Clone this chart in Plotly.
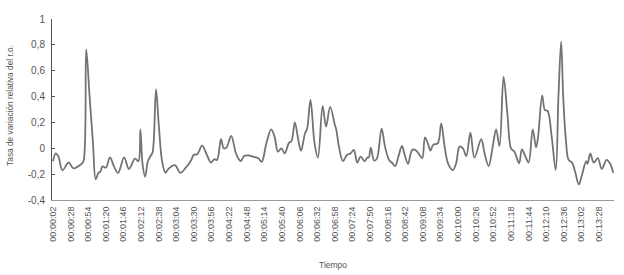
import plotly.graph_objects as go

# Time in seconds from start, and relative variation rate
segundos = [2, 6, 10, 16, 25, 32, 39, 44, 47, 51, 56, 61, 65, 69, 72, 75, 80, 86, 92, 98,
            107, 114, 123, 128, 131, 134, 138, 142, 146, 149, 154, 158, 163, 168, 173, 182,
            190, 198, 205, 210, 215, 222, 229, 235, 240, 244, 250, 254, 258, 265, 272, 277,
            279, 284, 290, 297, 305, 310, 317, 324, 329, 334, 339, 344, 350, 354, 359, 364,
            368, 374, 377, 382, 388, 393, 400, 405, 411, 418, 420, 424, 430, 436, 441, 446,
            451, 456, 462, 466, 468, 471, 476, 480, 487, 492, 498, 502, 507, 512, 517, 521,
            526, 532, 537, 542, 547, 551, 556, 559, 563, 570, 575, 580, 585, 592, 597, 602,
            607, 612, 618, 624, 634, 639, 645, 651, 656, 661, 667, 673, 678, 683, 690, 694,
            699, 704, 710, 715, 718, 724, 728, 732, 738, 744, 748, 752, 755, 759, 763, 768,
            773, 778, 782, 789, 791, 795, 800, 806, 812, 819, 824, 829]
tasa = [-0.10, -0.04, -0.065, -0.17, -0.11, -0.155, -0.14, -0.12, -0.10, 0.765, 0.40, 0.04,
        -0.24, -0.19, -0.18, -0.14, -0.15, -0.07, -0.14, -0.19, -0.07, -0.16, -0.08, -0.10,
        0.147, -0.116, -0.22, -0.10, -0.06, -0.03, 0.456, 0.19, -0.10, -0.19, -0.155, -0.13,
        -0.19, -0.15, -0.10, -0.05, -0.046, 0.02, -0.05, -0.11, -0.085, -0.09, 0.07, 0.0,
        0.005, 0.095, -0.04, -0.09, -0.10, -0.06, -0.055, -0.065, -0.077, -0.105, 0.04, 0.147,
        0.09, -0.026, 0.0, -0.04, 0.04, 0.057, 0.20, 0.064, -0.018, 0.116, 0.15, 0.374,
        0.04, -0.072, 0.327, 0.167, 0.32, 0.18, 0.147, 0.013, -0.10, -0.05, -0.04, -0.013,
        -0.11, -0.065, -0.10, -0.07, -0.072, 0.005, -0.095, -0.08, 0.152, 0.013, -0.09, -0.11,
        -0.137, -0.06, 0.018, -0.05, -0.12, -0.013, -0.013, -0.044, -0.077, 0.085, 0.026, -0.018,
        0.026, 0.04, 0.193, 0.013, -0.116, -0.168, -0.116, 0.013, 0.0, -0.06, 0.12, -0.072,
        0.07, -0.04, -0.137, 0.013, 0.147, 0.018, 0.554, 0.245, 0.0, -0.026, -0.116, -0.008,
        -0.06, -0.11, 0.147, 0.008, 0.09, 0.41, 0.296, 0.29, 0.09, -0.168, 0.40, 0.825,
        0.40, 0.064, -0.09, -0.11, -0.19, -0.28, -0.22, -0.10, -0.12, -0.04, -0.11, -0.077,
        -0.16, -0.09, -0.116, -0.19]

x_tick_segundos = [2 + 26 * i for i in range(32)]
x_tick_labels = ["00:00:02", "00:00:28", "00:00:54", "00:01:20", "00:01:46", "00:02:12",
                 "00:02:38", "00:03:04", "00:03:30", "00:03:56", "00:04:22", "00:04:48",
                 "00:05:14", "00:05:40", "00:06:06", "00:06:32", "00:06:58", "00:07:24",
                 "00:07:50", "00:08:16", "00:08:42", "00:09:08", "00:09:34", "00:10:00",
                 "00:10:26", "00:10:52", "00:11:18", "00:11:44", "00:12:10", "00:12:36",
                 "00:13:02", "00:13:28"]
y_tick_vals = [-0.4, -0.2, 0, 0.2, 0.4, 0.6, 0.8, 1]
y_tick_labels = ["-0,4", "-0,2", "0", "0,2", "0,4", "0,6", "0,8", "1"]

FONT = "Liberation Sans Narrow, Liberation Sans, Arial, sans-serif"

fig = go.Figure()
fig.add_trace(go.Scatter(
    x=segundos, y=tasa, mode="lines",
    line=dict(color="#737373", width=1.8, shape="spline", smoothing=1.0),
    showlegend=False, hoverinfo="skip"))

fig.update_layout(
    width=624, height=275,
    margin=dict(l=52, r=10, t=19, b=75),
    paper_bgcolor="white", plot_bgcolor="white",
    font=dict(family=FONT, color="#555555", size=10),
    xaxis=dict(range=[0.5, 830], tickvals=x_tick_segundos, ticktext=x_tick_labels,
               tickangle=-90, showgrid=False, zeroline=False, showline=True,
               linecolor="#9a9a9a", linewidth=1, ticks="", automargin=False,
               ticklabelstandoff=2,
               tickfont=dict(size=9, color="#555555")),
    yaxis=dict(range=[-0.4, 1], tickvals=y_tick_vals, ticktext=y_tick_labels,
               showgrid=False, zeroline=False, showline=True, linecolor="#555555",
               linewidth=1, ticks="inside", ticklen=3, tickcolor="#555555",
               automargin=False, ticklabelstandoff=4,
               tickfont=dict(size=10, color="#555555")),
    annotations=[
        dict(text="Tasa de variación relativa del r.o.", xref="paper", yref="paper",
             x=-42/562, y=0.52, textangle=-90, showarrow=False,
             xanchor="center", yanchor="middle", font=dict(size=8.3, color="#555555")),
        dict(text="Tiempo", xref="paper", yref="paper", x=(333-52)/562, y=-(265-200)/181,
             showarrow=False, xanchor="center", yanchor="middle",
             font=dict(size=8.5, color="#555555")),
    ],
)

fig.write_html("out.html", config={"displayModeBar": False, "staticPlot": True},
               post_script="document.body.style.margin='0';document.body.style.overflow='hidden';")
